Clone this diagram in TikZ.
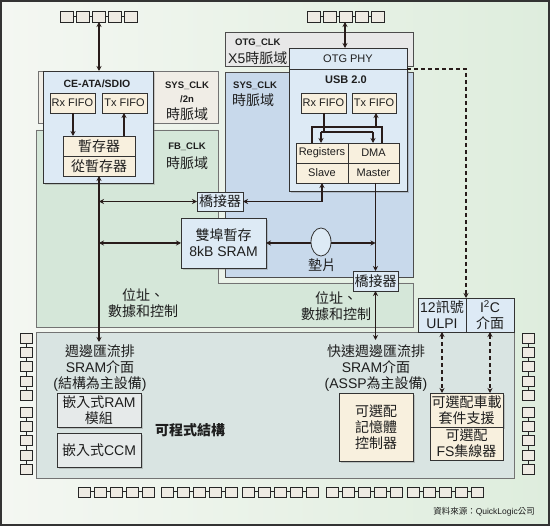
\documentclass[tikz,border=0pt]{standalone}
\usepackage{fontspec}
\setmainfont{Liberation Sans}
\newfontfamily\cjk{Noto Sans CJK TC}
\newcommand\zh[1]{{\cjk #1}}
\usetikzlibrary{arrows.meta,shadows,shapes.geometric}
\definecolor{bgL}{RGB}{244,247,242}
\definecolor{bgR}{RGB}{222,237,221}
\definecolor{fbgreen}{RGB}{213,231,217}
\definecolor{sysbeige}{RGB}{240,237,230}
\definecolor{sysblue}{RGB}{200,217,235}
\definecolor{otggray}{RGB}{232,232,232}
\definecolor{boxblue}{RGB}{221,234,245}
\definecolor{cream}{RGB}{248,240,222}
\definecolor{progarea}{RGB}{217,228,226}
\definecolor{embgray}{RGB}{230,234,234}
\definecolor{pinfill}{RGB}{238,235,227}
\definecolor{arrc}{RGB}{40,28,26}
\definecolor{txt}{RGB}{30,30,30}
\tikzset{
  region/.style={draw=black!55, line width=0.8pt},
  bx/.style={draw=black!80, line width=0.8pt, inner sep=0pt, outer sep=0pt, anchor=north west, text=txt},
  bluebox/.style={bx, fill=boxblue},
  creambox/.style={bx, fill=cream},
  graybox/.style={bx, fill=embgray},
  shad/.style={drop shadow={opacity=0.35, shadow xshift=2pt, shadow yshift=-2pt}},
  lat/.style={font=\fontsize{11}{12}\selectfont},
  big/.style={font=\fontsize{14}{16}\selectfont, align=center},
  zhbig/.style={font=\cjk\fontsize{14}{16}\selectfont, align=center},
  lbl/.style={inner sep=0pt, text=txt},
  blat/.style={lbl, font=\bfseries\fontsize{9.5}{12.5}\selectfont, align=center},
  arr/.style={line width=1.7pt, draw=arrc, -{Stealth[length=5pt,width=5pt]}},
  darr/.style={line width=1.7pt, draw=arrc, {Stealth[length=5pt,width=5pt]}-{Stealth[length=5pt,width=5pt]}},
  plain/.style={line width=1.7pt, draw=arrc},
  dasharr/.style={line width=1.7pt, draw=arrc, dash pattern=on 4pt off 3pt, -{Stealth[length=5pt,width=5pt]}},
  ddash/.style={line width=1.7pt, draw=arrc, dash pattern=on 4pt off 3pt, {Stealth[length=5pt,width=5pt]}-{Stealth[length=5pt,width=5pt]}},
  pin/.style={draw=black!85, line width=0.7pt, fill=pinfill},
}
\begin{document}
\begin{tikzpicture}[x=1pt,y=-1pt]
\useasboundingbox (0,0) rectangle (550,526);
% background
\shade[left color=bgL, right color=bgR] (0,0) rectangle (550,526);
\draw[draw=black!80, line width=2pt] (1,1) rectangle (549,525);

% clock regions
\draw[region, fill=fbgreen] (36,130) -- (218,130) -- (218,283) -- (413,283) -- (413,327) -- (36,327) -- cycle;
\draw[region, fill=sysbeige] (38,71) rectangle (218,123);
\draw[region, draw=black!70, fill=sysblue] (225,72) rectangle (413,277);
\draw[region, draw=black!70, fill=otggray] (225,32) rectangle (413,66);
\draw[region, fill=progarea] (36,332) rectangle (514,478);

% region labels
\node[blat] at (187,86) {SYS\_CLK};
\node[blat] at (187,99) {/2n};
\node[lbl, zhbig] at (187,114) {時脈域};
\node[blat] at (187,147) {FB\_CLK};
\node[lbl, zhbig] at (187,163) {時脈域};
\node[blat, anchor=west] at (233,86) {SYS\_CLK};
\node[lbl, zhbig, anchor=west] at (232,100) {時脈域};
\node[blat, anchor=west] at (235,43) {OTG\_CLK};
\node[lbl, big, anchor=west] at (228,58) {X5\zh{時脈域}};

% pins
\foreach \s in {60,307}{
  \foreach \i in {0,...,4}{
    \draw[pin] (\s+16*\i,11) rectangle ++(13,11);
  }
  \foreach \i in {0,...,3}{
    \draw[line width=1pt, draw=black!85] (\s+13+16*\i,16.5) -- ++(3,0);
  }
}
\foreach \s in {78,161,242,326,407}{
  \foreach \i in {0,...,4}{
    \draw[pin] (\s+16*\i,487) rectangle ++(12,10);
  }
  \foreach \i in {0,...,3}{
    \draw[line width=1pt, draw=black!85] (\s+12+16*\i,492) -- ++(4,0);
  }
}
\foreach \xx in {20,522}{
  \foreach \s in {333,407}{
    \foreach \i in {0,...,4}{
      \draw[pin] (\xx,\s+14.4*\i) rectangle ++(12,10);
    }
    \foreach \i in {0,...,3}{
      \draw[line width=1pt, draw=black!85] (\xx+6,\s+10+14.4*\i) -- ++(0,4.4);
    }
  }
}
\coordinate (pinsL) at (99,22);
\coordinate (pinsR) at (345,22);

% CE-ATA/SDIO
\node[bluebox, shad, minimum width=110, minimum height=112] (ceata) at (43,71) {};
\node[lbl, font=\bfseries\fontsize{10.5}{12}\selectfont] at (97,84) {CE-ATA/SDIO};
\node[creambox, lat, minimum width=45, minimum height=20] (rxL) at (50,93) {Rx FIFO};
\node[creambox, lat, minimum width=45, minimum height=20] (txL) at (102,93) {Tx FIFO};
\node[creambox, zhbig, minimum width=72, minimum height=20] (reg) at (63,136) {暫存器};
\node[creambox, zhbig, minimum width=72, minimum height=20] (sreg) at (63,156) {從暫存器};

% OTG PHY / USB 2.0
\node[bluebox, shad, minimum width=118, minimum height=122] (usb) at (289,69) {};
\node[bluebox, lat, minimum width=118, minimum height=21] (otgphy) at (289,48) {OTG PHY};
\node[lbl, font=\bfseries\fontsize{11}{13}\selectfont] at (346,80) {USB 2.0};
\node[creambox, lat, minimum width=45, minimum height=20] (rxU) at (301,93) {Rx FIFO};
\node[creambox, lat, minimum width=44, minimum height=20] (txU) at (352,93) {Tx FIFO};
\node[creambox, lat, minimum width=52, minimum height=20] (regs) at (296,143) {Registers};
\node[creambox, lat, minimum width=51, minimum height=20] (dma) at (348,143) {DMA};
\node[creambox, lat, minimum width=52, minimum height=20] (slave) at (296,163) {Slave};
\node[creambox, lat, minimum width=51, minimum height=20] (master) at (348,163) {Master};

% bridges, SRAM, pad
\node[bluebox, zhbig, minimum width=46, minimum height=19] (bridge1) at (197,192) {橋接器};
\node[bluebox, shad, big, minimum width=85, minimum height=50] (sram) at (181,218) {\zh{雙埠暫存}\\8kB SRAM};
\node[bluebox, zhbig, minimum width=45, minimum height=20] (bridge2) at (353,271) {橋接器};

% interface boxes
\node[bluebox, big, minimum width=48, minimum height=34] (ulpi) at (418,298) {12\zh{訊號}\\ULPI};
\node[bluebox, big, minimum width=48, minimum height=34] (i2c) at (466,298) {I\textsuperscript{2}C\\\zh{介面}};

% bottom area contents
\node[lbl, big] at (100,368) {\zh{週邊匯流排}\\SRAM\zh{介面}\\(\zh{結構為主設備})};
\node[lbl, big] at (376,368) {\zh{快速週邊匯流排}\\SRAM\zh{介面}\\(ASSP\zh{為主設備})};
\node[graybox, shad, big, minimum width=84, minimum height=34] (eram) at (57,393) {\zh{嵌入式}RAM\\\zh{模組}};
\node[graybox, shad, big, minimum width=84, minimum height=34] (eccm) at (57,433) {\zh{嵌入式}CCM};
\node[lbl, font=\cjk\bfseries\fontsize{14}{16}\selectfont] at (190,430) {可程式結構};
\node[creambox, shad, zhbig, minimum width=74, minimum height=68] (memctl) at (339,393) {可選配\\記憶體\\控制器};
\node[creambox, shad, zhbig, minimum width=73, minimum height=34] (auto) at (430,393) {可選配車載\\套件支援};
\node[creambox, big, minimum width=73, minimum height=33] (fshub) at (430,427) {\zh{可選配}\\FS\zh{集線器}};

% labels on green region
\node[lbl, zhbig] at (143,303) {位址、\\數據和控制};
\node[lbl, zhbig] at (336,306) {位址、\\數據和控制};

% source
\node[lbl, anchor=east, font=\fontsize{8.5}{10}\selectfont] at (535,512) {\zh{資料來源：}QuickLogic\zh{公司}};

% connectors
\coordinate (busL) at (99,342);
\coordinate (busR) at (375.5,340);
\draw[darr] (pinsL) -- (ceata.north -| pinsL);
\draw[darr] (pinsR) -- (otgphy.north -| pinsR);
\draw[arr] (rxL.south -| 73,0) -- (reg.north -| 73,0);
\draw[arr] (reg.north -| 124,0) -- (txL.south -| 124,0);
% USB internal
\draw[plain] (regs.north -| 312,0) -- (312,127) -- (382,127) -- (dma.north -| 382,0);
\draw[arr] (376,127) -- (txU.south -| 376,0);
\draw[plain] (rxU.south -| 324,0) -- (324,132);
\draw[plain] (321,132) -- (373,132);
\draw[arr] (321,132) -- (regs.north -| 321,0);
\draw[arr] (373,132) -- (dma.north -| 373,0);
% left bus
\draw[darr] (sreg.south) -- (busL);
\draw[darr] (sreg.south |- bridge1.west) -- (bridge1.west);
\draw[darr] (sreg.south |- sram.west) -- (sram.west);
\draw[darr] (bridge1.east) -| (slave.south);
\draw[arr] (bridge2.north |- master.south) -- (bridge2.north);
\draw[darr] (sram.east) -- (sram.east -| bridge2.north);
\draw[darr] (bridge2.south) -- (busR);
\node[ellipse, draw=black!80, line width=0.8pt, fill=boxblue, minimum width=20, minimum height=28, inner sep=0pt] (pad) at (321,242) {};
\node[lbl, zhbig] at (322,265) {墊片};
% dashed
\draw[dasharr] (otgphy.south east) -| (ulpi.north east);
\draw[ddash] (ulpi.south) -- (ulpi.south |- auto.north);
\draw[ddash] (i2c.south) -- (i2c.south |- auto.north);
\end{tikzpicture}
\end{document}
